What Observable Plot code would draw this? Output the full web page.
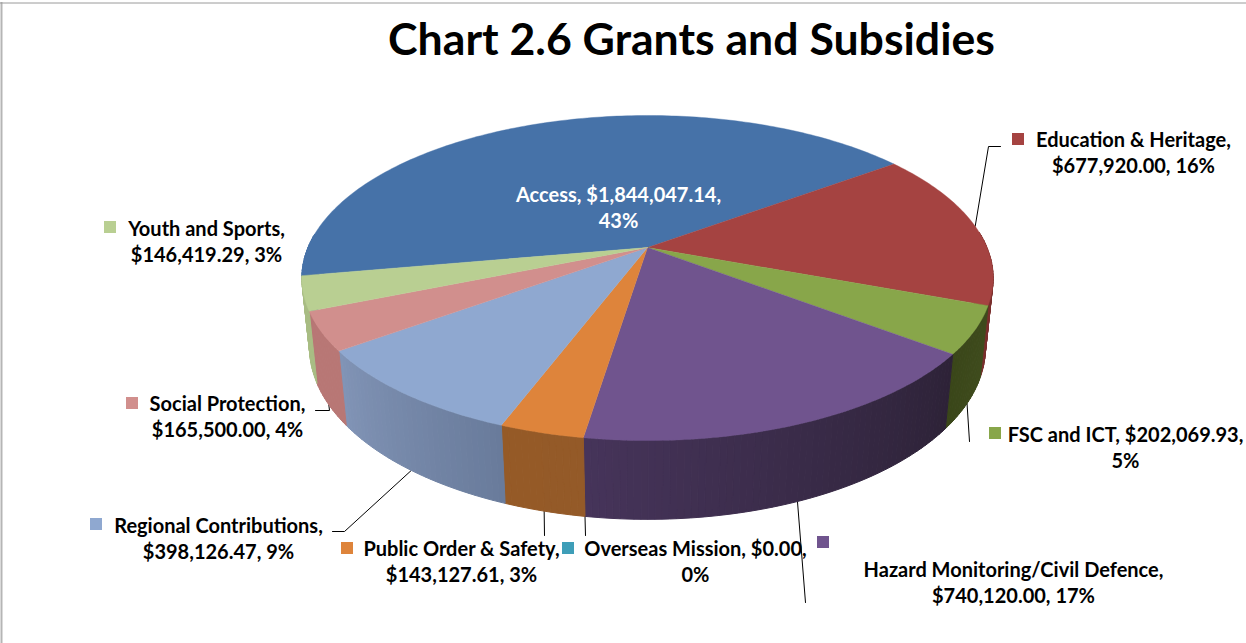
<!DOCTYPE html>
<html>
<head>
<meta charset="utf-8">
<title>Chart 2.6 Grants and Subsidies</title>
<script src="https://cdn.jsdelivr.net/npm/d3@7"></script>
<script src="https://cdn.jsdelivr.net/npm/@observablehq/plot@0.6"></script>
<style>
  html, body { margin: 0; padding: 0; background: #fff; }
  svg { display: block; }
</style>
</head>
<body>
<div id="chart"></div>
<script>
// Grant recipients, in the order they run clockwise round the pie.
const categories = ["Access", "Education & Heritage", "FSC and ICT", "Hazard Monitoring/Civil Defence",
  "Overseas Mission", "Public Order & Safety", "Regional Contributions", "Social Protection", "Youth and Sports"];
const amounts = [1844047.14, 677920.00, 202069.93, 740120.00, 0.00, 143127.61, 398126.47, 165500.00, 146419.29];
const percentOnOwnLine = ["Access", "FSC and ICT", "Overseas Mission"];

// Slice colours: top face, then the rim shade at the start and end of each slice.
const topColors = ["#4672a8", "#a54341", "#88a64a", "#70548e", "#3e9eb8", "#de843b", "#8fa8d0", "#d18f8d", "#b9cf92"];
const rimFrom = ["#4672a8", "#7a2f2d", "#3f4c1d", "#2d2237", "#2d6b7c", "#945a28", "#697b9b", "#b87775", "#a9bd84"];
const rimTo = ["#3d6595", "#7a2f2d", "#3a4619", "#46345a", "#2d6b7c", "#955a27", "#8194b6", "#b87775", "#a9bd84"];

// Label layout: text centre, swatch centre, and the elbow of each leader line (null = no leader).
const labelX = [618, 1133, 1125, 1013, 695, 461, 218, 227, 206];
const labelY = [206, 151.5, 446, 581, 560, 560, 537, 415.5, 240];
const swatchX = [null, 1018, 995, 823, 568, 347, 96, 132, 110];
const swatchY = [null, 139, 433, 542, 548, 548, 524, 403, 227];
const leaderStart = [null, [1000, 146], [969, 441], [805, 602], [585, 535], [544, 535], [332, 531], [315, 410], null];
const leaderKnee = [null, [988, 146], null, null, null, null, [344, 531], [329, 410], null];

// Perspective view of the disc: the centre, radii, foreshortening and thickness.
const view = {cx: 647, cy: 247, a: 339.5, b: 156.8, k: 0.1877, drop: 70, shrink: 0.022, startDeg: -100};

// Projects an angle (degrees clockwise from the far side) and radius onto the plot, on the top or bottom face.
function project(deg, radius = 1, bottom = false) {
  const t = deg * Math.PI / 180;
  const u = radius * Math.sin(t), v = radius * Math.cos(t);
  const w = 1 + view.k * v + (bottom ? view.shrink : 0);
  return [view.cx + view.a * u / w, view.cy + (-view.b * v + (bottom ? view.drop : 0)) / w];
}

// Turn the amounts into angular spans through a running total.
const total = d3.sum(amounts);
let running = view.startDeg;
const slices = categories.map((name, i) => {
  const from = running;
  running += amounts[i] / total * 360;
  return {name, i, from, to: running, mid: (from + running) / 2, amount: amounts[i]};
});

// Top face polygons, stepped finely along the arc.
const topFaces = slices.flatMap(s => {
  if (s.amount === 0) return [];
  const steps = Math.max(2, Math.ceil(s.to - s.from));
  const pts = [project(0, 0)];
  for (let j = 0; j <= steps; j++) pts.push(project(s.from + (s.to - s.from) * j / steps));
  pts.push(pts[0]);
  return pts.map(p => ({id: s.name, x: p[0], y: p[1], c: topColors[s.i]}));
});

// Rim strips on the near side of the disc, shaded along each slice.
const rimStrips = slices.flatMap(s => {
  const out = [];
  if (s.amount === 0) return out;
  const shade = d3.interpolateRgb(rimFrom[s.i], rimTo[s.i]);
  const steps = Math.max(1, Math.ceil(s.to - s.from));
  for (let j = 0; j < steps; j++) {
    const a = s.from + (s.to - s.from) * j / steps, b = s.from + (s.to - s.from) * (j + 1) / steps;
    const wrapped = ((a + b) / 2 + 360) % 360;
    if (wrapped < 85 || wrapped > 275) continue;
    const id = `${s.name}-${j}`, c = shade((j + 0.5) / steps);
    const corners = [project(a), project(b), project(b, 1, true), project(a, 1, true), project(a)];
    for (const p of corners) out.push({id, x: p[0], y: p[1], c});
  }
  return out;
});

// Leader lines: each runs from its elbow to the slice's mid-angle on the rim.
const leaders = slices.flatMap(s => {
  const start = leaderStart[s.i];
  if (!start) return [];
  // Slices on the far half of the disc attach to the top edge, the rest to the bottom edge.
  const end = project(s.mid, 1, s.mid > 90);
  const knee = leaderKnee[s.i];
  return [start, ...(knee ? [knee] : []), end].map(p => ({id: s.name, x: p[0], y: p[1]}));
});

const money = d3.format("$,.2f");
const labels = slices.map(s => {
  const pct = `${Math.round(s.amount / total * 100)}%`;
  const text = percentOnOwnLine.includes(s.name)
    ? `${s.name}, ${money(s.amount)},\n${pct}`
    : `${s.name},\n${money(s.amount)}, ${pct}`;
  return {text, x: labelX[s.i], y: labelY[s.i], white: s.i === 0};
});
const swatches = slices.filter(s => swatchX[s.i] !== null)
  .map(s => ({x: swatchX[s.i], y: swatchY[s.i], c: topColors[s.i]}));

const font = "Lato, Carlito, Calibri, sans-serif";

const chart = Plot.plot({
  width: 1246,
  height: 643,
  margin: 0,
  x: {domain: [0, 1246], range: [0, 1246], axis: null},
  y: {domain: [0, 643], range: [0, 643], axis: null},
  color: {type: "identity"},
  style: {background: "#fff"},
  marks: [
    // Chart frame along the left and top edges
    Plot.ruleX([1], {y1: 2, y2: 643, stroke: "#b5b5b5", strokeWidth: 2}),
    Plot.ruleY([2.5], {x1: 0, x2: 1246, stroke: "#9a9a9a", strokeWidth: 1}),
    // Leader lines sit behind the disc where they meet it
    Plot.line(leaders, {x: "x", y: "y", z: "id", stroke: "#000", strokeWidth: 1, curve: "linear"}),
    Plot.line(rimStrips, {x: "x", y: "y", z: "id", fill: "c", stroke: "c", strokeWidth: 1, curve: "linear"}),
    Plot.line(topFaces, {x: "x", y: "y", z: "id", fill: "c", stroke: "c", strokeWidth: 0.4, curve: "linear"}),
    Plot.rect(swatches, {
      x1: d => d.x - 6, x2: d => d.x + 6, y1: d => d.y - 6, y2: d => d.y + 6, fill: "c"
    }),
    Plot.text(labels, {
      x: "x", y: "y", text: "text", fill: d => d.white ? "#fff" : "#000",
      fontFamily: font, fontWeight: 700, fontSize: 20, lineHeight: 1.3, textAnchor: "middle"
    }),
    Plot.text(["Chart 2.6 Grants and Subsidies"], {
      x: () => 691, y: () => 40, text: d => d,
      fontFamily: font, fontWeight: 700, fontSize: 44.6, textAnchor: "middle", fill: "#000"
    })
  ]
});
document.getElementById("chart").appendChild(chart);
</script>
</body>
</html>
